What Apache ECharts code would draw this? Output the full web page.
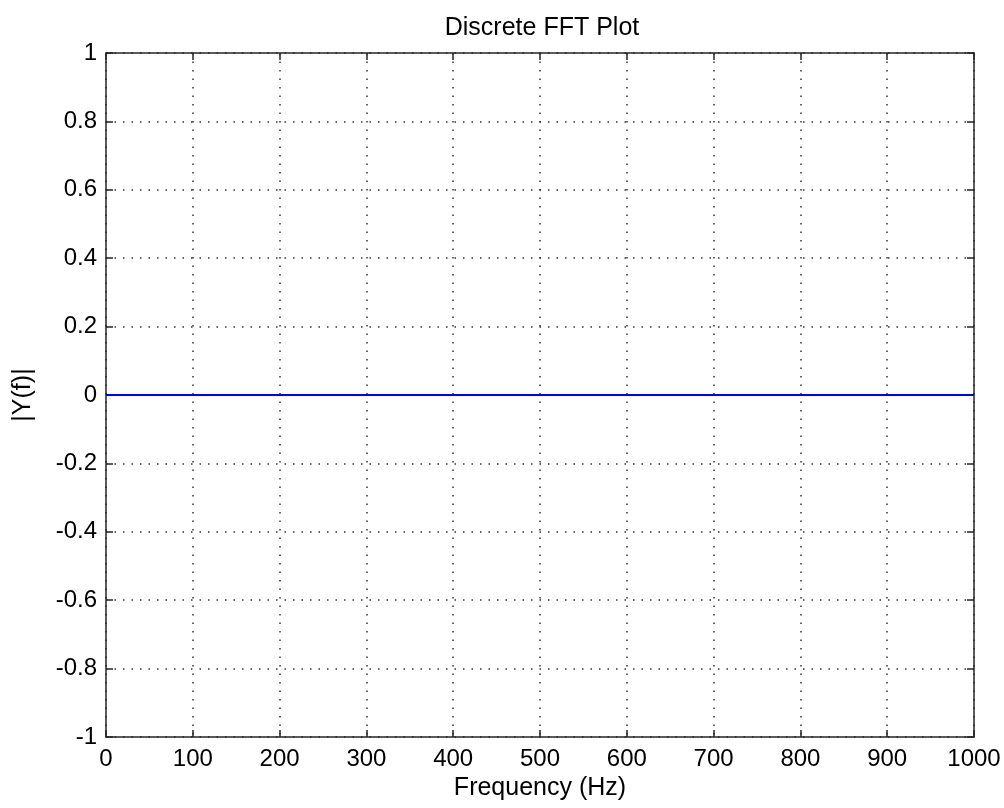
<!DOCTYPE html>
<html><head><meta charset="utf-8">
<script src="https://cdn.jsdelivr.net/npm/echarts@6/dist/echarts.min.js"></script>
<style>html,body{margin:0;padding:0;background:#fff}#c{width:1004px;height:808px}</style>
</head><body><div id="c"></div>
<script>
const titleText = 'Discrete FFT Plot';
const xName = 'Frequency (Hz)';
const yName = '|Y(f)|';
const frequency = [0, 100, 200, 300, 400, 500, 600, 700, 800, 900, 1000];
const magnitude = [0, 0, 0, 0, 0, 0, 0, 0, 0, 0, 0];
const xTicks = [0, 1000, 100];
const yTicks = [-1, 1, 0.2];

const font = 'Liberation Sans, Arial, sans-serif';
const chart = echarts.init(document.getElementById('c'));
const axisCommon = {
  axisLine: {show: true, onZero: false, lineStyle: {color: '#262626', width: 1.5}},
  axisTick: {show: true, inside: true, length: 7, lineStyle: {color: '#262626', width: 1.5}},
};
const gridStyle = {color: '#333', type: [1.5, 7], width: 1.5};
chart.setOption({
  animation: false,
  title: {text: titleText, left: 537, top: 11, textAlign: 'center',
    textStyle: {fontFamily: font, fontSize: 25, fontWeight: 'normal', color: '#000'}},
  grid: {left: 106, right: 30, top: 53, bottom: 71},
  xAxis: [{
    type: 'value', min: xTicks[0], max: xTicks[1], interval: xTicks[2],
    name: xName, nameLocation: 'middle', nameGap: 35,
    nameTextStyle: {fontFamily: font, fontSize: 25, color: '#000'},
    ...axisCommon,
    axisLabel: {fontFamily: font, fontSize: 24, color: '#000', margin: 10,
      formatter: v => String(v)},
    splitLine: {show: true, lineStyle: gridStyle}
  }, {
    type: 'value', position: 'top', min: xTicks[0], max: xTicks[1], interval: xTicks[2],
    ...axisCommon, axisLabel: {show: false}, splitLine: {show: false}
  }],
  yAxis: [{
    type: 'value', min: yTicks[0], max: yTicks[1], interval: yTicks[2],
    name: yName, nameLocation: 'middle', nameGap: 70, nameRotate: 90,
    nameTextStyle: {fontFamily: font, fontSize: 25, color: '#000'},
    ...axisCommon,
    axisLabel: {fontFamily: font, fontSize: 24, color: '#000', margin: 9,
      formatter: v => String(Math.round(v * 10) / 10)},
    splitLine: {show: true, lineStyle: gridStyle}
  }, {
    type: 'value', position: 'right', min: yTicks[0], max: yTicks[1], interval: yTicks[2],
    ...axisCommon, axisLabel: {show: false}, splitLine: {show: false}
  }],
  series: [{
    type: 'line', xAxisIndex: 0, yAxisIndex: 0,
    data: frequency.map((f, i) => [f, magnitude[i]]),
    showSymbol: false, lineStyle: {color: '#0000ff', width: 2}
  }]
});
</script></body></html>
